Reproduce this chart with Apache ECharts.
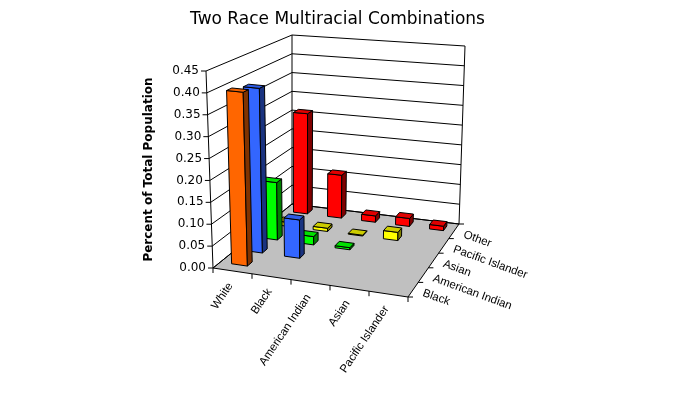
<!DOCTYPE html>
<html>
<head>
<meta charset="utf-8">
<script src="https://cdn.jsdelivr.net/npm/echarts@6/dist/echarts.min.js"></script>
<style>
html, body { margin: 0; padding: 0; background: #fff; }
#main { width: 675px; height: 413px; }
</style>
</head>
<body>
<div id="main"></div>
<script>
// categories along the front axis, rows along the depth axis
var categories = ['White', 'Black', 'American Indian', 'Asian', 'Pacific Islander'];
var rowNames = ['Black', 'American Indian', 'Asian', 'Pacific Islander', 'Other'];

// percent of total population, one array per depth row (null = no bar)
var blackValues = [0.40, null, null, null, null];
var amIndianValues = [0.39, 0.09, null, null, null];
var asianValues = [0.14, 0.02, 0.005, null, null];
var pacIslanderValues = [0.01, 0.008, 0.002, 0.02, null];
var otherValues = [0.26, 0.11, 0.016, 0.02, 0.011];

var yTicks = [0, 0.05, 0.10, 0.15, 0.20, 0.25, 0.30, 0.35, 0.40, 0.45];

var rowColors = [
    { front: '#FF6600', top: '#F06000', side: '#803300' },
    { front: '#3366FF', top: '#2E5CE6', side: '#1A3380' },
    { front: '#00FF00', top: '#00E000', side: '#008000' },
    { front: '#FFFF00', top: '#CCCC00', side: '#808000' },
    { front: '#FF0000', top: '#E00000', side: '#800000' }
];

// screen corners of the 3d box: front-left, front-right, back-right, back-left
var floorCorners = [[213, 268], [408, 297], [459, 224], [292, 204]];
var topCorners = [[206, 71], [413, 92], [465, 46], [292, 35]];
var barWidth = 0.41;
var barDepth = 0.32;
var barCenter = 0.62; // bars sit a little behind the middle of their row
var labelFont = '11.5px "Liberation Sans"';

function bil(c, u, v) {
    var a = (1 - u) * (1 - v), b = u * (1 - v), d = u * v, e = (1 - u) * v;
    return [c[0][0] * a + c[1][0] * b + c[2][0] * d + c[3][0] * e,
            c[0][1] * a + c[1][1] * b + c[2][1] * d + c[3][1] * e];
}

function proj(u, v, h) {
    var f = bil(floorCorners, u, v);
    var t = bil(topCorners, u, v);
    return [f[0] + (t[0] - f[0]) * h, f[1] + (t[1] - f[1]) * h];
}

function line(p, q) {
    return { type: 'line', shape: { x1: p[0], y1: p[1], x2: q[0], y2: q[1] },
             style: { stroke: '#000', lineWidth: 1 } };
}

function poly(pts, fill, stroke) {
    return { type: 'polygon', shape: { points: pts },
             style: { fill: fill, stroke: stroke || '#000', lineWidth: 1 } };
}

function text(str, p, rot, align) {
    return { type: 'text', x: p[0], y: p[1], rotation: rot,
             style: { text: str, fill: '#000', font: labelFont, align: align, verticalAlign: 'middle' } };
}

var rows = [blackValues, amIndianValues, asianValues, pacIslanderValues, otherValues];
var barData = [];
for (var j = rows.length - 1; j >= 0; j--) {
    for (var i = 0; i < categories.length; i++) {
        if (rows[j][i] != null) barData.push([i, rows[j][i], j]);
    }
}

function heightOf(params, api, val) {
    var cs = params.coordSys;
    return (cs.y + cs.height - api.coord([0, val])[1]) / cs.height;
}

function renderFrame(params, api) {
    var cs = params.coordSys;
    var h = heightOf(params, api, api.value(1));
    var kids = [];
    if (params.dataIndex === 0) {
        kids.push(poly([proj(0, 0, 0), proj(1, 0, 0), proj(1, 1, 0), proj(0, 1, 0)], '#C0C0C0', '#000'));
        kids.push(line(proj(0, 0, 0), proj(0, 0, 1)));
        kids.push(line(proj(0, 1, 0), proj(0, 1, 1)));
        kids.push(line(proj(1, 1, 0), proj(1, 1, 1)));
        var n = categories.length;
        for (var k = 0; k <= n; k++) {
            var p = proj(k / n, 0, 0);
            kids.push(line(p, [p[0], p[1] + 5]));
        }
        for (var c = 0; c < n; c++) {
            var u = (api.coord([c, 0])[0] - cs.x) / cs.width;
            var q = proj(u, 0, 0);
            kids.push(text(categories[c], [q[0] - 2, q[1] + 13], 56 * Math.PI / 180, 'right'));
        }
        var m = rowNames.length;
        for (var r = 0; r <= m; r++) {
            var s = proj(1, r / m, 0);
            kids.push(line(s, [s[0] + 5, s[1]]));
        }
        for (var r2 = 0; r2 < m; r2++) {
            var t = proj(1, (r2 + 0.5) / m, 0);
            kids.push(text(rowNames[r2], [t[0] + 10, t[1] + 3], -20 * Math.PI / 180, 'left'));
        }
    }
    var a = proj(0, 0, h);
    kids.push(line(a, proj(0, 1, h)));
    kids.push(line(proj(0, 1, h), proj(1, 1, h)));
    kids.push(line(a, [a[0] - 5, a[1]]));
    kids.push({ type: 'text', x: a[0] - 7, y: a[1],
                style: { text: api.value(1).toFixed(2), fill: '#000', font: '12px "DejaVu Sans"',
                         align: 'right', verticalAlign: 'middle' } });
    return { type: 'group', children: kids };
}

function renderBar(params, api) {
    var cs = params.coordSys;
    var i = api.value(0), val = api.value(1), j = api.value(2);
    var pt = api.coord([i, val]);
    var uc = (pt[0] - cs.x) / cs.width;
    var hw = api.size([1, 0])[0] * barWidth / 2 / cs.width;
    var h = heightOf(params, api, val);
    var m = rowNames.length;
    var u0 = uc - hw, u1 = uc + hw;
    var v0 = (j + barCenter - barDepth / 2) / m, v1 = (j + barCenter + barDepth / 2) / m;
    var col = rowColors[j];
    return { type: 'group', z2: params.dataIndex, children: [
        poly([proj(u0, v0, 0), proj(u1, v0, 0), proj(u1, v0, h), proj(u0, v0, h)], col.front),
        poly([proj(u1, v0, 0), proj(u1, v1, 0), proj(u1, v1, h), proj(u1, v0, h)], col.side),
        poly([proj(u0, v0, h), proj(u1, v0, h), proj(u1, v1, h), proj(u0, v1, h)], col.top)
    ] };
}

var myChart = echarts.init(document.getElementById('main'));
myChart.setOption({
    backgroundColor: '#fff',
    animation: false,
    title: {
        text: 'Two Race Multiracial Combinations',
        left: 'center', top: 6,
        textStyle: { fontFamily: 'DejaVu Sans', fontSize: 17, fontWeight: 'normal', color: '#000' }
    },
    grid: { left: 210, top: 71, width: 195, height: 197 },
    xAxis: { type: 'category', data: categories, show: false },
    yAxis: {
        type: 'value', min: 0, max: 0.45, interval: 0.05,
        name: 'Percent of Total Population', nameLocation: 'middle', nameGap: 55, nameRotate: 90,
        nameTextStyle: { fontFamily: 'DejaVu Sans', fontSize: 12, fontWeight: 'bold', color: '#000' },
        axisLine: { show: false }, axisTick: { show: false }, axisLabel: { show: false },
        splitLine: { show: false }
    },
    series: [
        { type: 'custom', name: 'frame', clip: false, silent: true, z: 1,
          data: yTicks.map(function (t) { return [0, t]; }), renderItem: renderFrame },
        { type: 'custom', name: 'bars', clip: false, silent: true, z: 2,
          data: barData, renderItem: renderBar }
    ]
});
</script>
</body>
</html>
